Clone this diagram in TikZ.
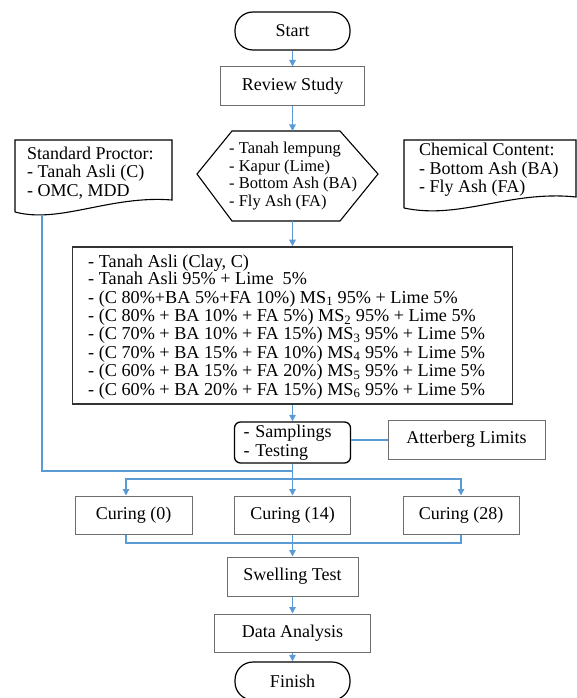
\documentclass[tikz,border=0pt]{standalone}
\usepackage{fontspec}
\setmainfont{Liberation Serif}
\usetikzlibrary{arrows.meta,calc}
\definecolor{flowblue}{RGB}{91,155,213}
\definecolor{boxgray}{RGB}{110,110,110}
\newcommand{\fsA}{\fontsize{18}{18.5}\selectfont}
\newcommand{\fsB}{\fontsize{16.5}{17.7}\selectfont}
\newcommand{\fsC}{\fontsize{18.2}{18.4}\selectfont}
\begin{document}
\begin{tikzpicture}[x=1pt,y=-1pt,
  plainbox/.style={draw=boxgray,line width=1pt,inner sep=0pt,font=\fsA,align=center},
  term/.style={draw=black,line width=1.2pt,rounded corners=18pt,inner sep=0pt,font=\fsA,minimum width=115pt,minimum height=38pt},
  txt/.style={inner sep=0pt,align=left,font=\fsA,anchor=west},
  shapeline/.style={draw=black,line width=1.1pt},
  flow/.style={draw=flowblue,line width=1.2pt},
  boldflow/.style={draw=flowblue,line width=2pt},
  arr/.style={flow,-{Triangle[length=6.5pt,width=6.5pt]}}]
\useasboundingbox (0,0) rectangle (577,698);

% terminals and boxes
\node[term] (start) at (292.5,31) {Start};
\node[plainbox,minimum width=144pt,minimum height=39pt] (review) at (292.5,86.5) {Review Study};

% hexagon
\coordinate (hextop) at (292.5,131);
\coordinate (hexbot) at (292.5,221);
\draw[shapeline] (232,131) -- (340,131) -- (378,174) -- (340,221) -- (232,221) -- (197,174) -- cycle;
\node[txt,font=\fsB] (hex) at (229,176) {- Tanah lempung\\- Kapur (Lime)\\- Bottom Ash (BA)\\- Fly Ash (FA)};

% standard proctor document
\draw[shapeline] (15,212) -- (15,140) -- (172,140) -- (172,200) .. controls (110,195) and (60,224) .. (15,212);
\node[txt] (sp) at (27,173) {Standard Proctor:\\- Tanah Asli (C)\\- OMC, MDD};
\coordinate (spb) at (42,215);

% chemical content document
\draw[shapeline] (404,208) -- (404,140) -- (576,140) -- (576,197) .. controls (510,190) and (460,220) .. (404,208);
\node[txt] (cc) at (419,170) {Chemical Content:\\- Bottom Ash (BA)\\- Fly Ash (FA)};

% mixtures box
\node[draw=black!80,line width=1.6pt,inner sep=0pt,minimum width=440pt,minimum height=157pt] (mix) at (292.5,325.5) {};
\node[txt,font=\fsC] (mixtext) at (88,327)
{- Tanah Asli (Clay, C)\\[-1.5pt]
- Tanah Asli 95\% + Lime\ \ 5\%\\
- (C 80\%+BA 5\%+FA 10\%) MS\textsubscript{1} 95\% + Lime 5\%\\
- (C 80\% + BA 10\% + FA 5\%) MS\textsubscript{2} 95\% + Lime 5\%\\
- (C 70\% + BA 10\% + FA 15\%) MS\textsubscript{3} 95\% + Lime 5\%\\
- (C 70\% + BA 15\% + FA 10\%) MS\textsubscript{4} 95\% + Lime 5\%\\
- (C 60\% + BA 15\% + FA 20\%) MS\textsubscript{5} 95\% + Lime 5\%\\
- (C 60\% + BA 20\% + FA 15\%) MS\textsubscript{6} 95\% + Lime 5\%};

% samplings and atterberg
\node[draw=black,line width=1.3pt,rounded corners=6pt,inner xsep=9pt,inner ysep=0pt,text width=98pt,minimum height=41pt,align=left,font=\fsA] (samp) at (292.5,442.5) {- Samplings\\- Testing};
\node[plainbox,minimum width=157pt,minimum height=39pt] (att) at (466.5,439.5) {Atterberg Limits};

% curing
\node[plainbox,minimum width=117pt,minimum height=38pt] (c0) at (133.5,515) {Curing (0)};
\node[plainbox,minimum width=116pt,minimum height=38pt] (c14) at (292.5,515) {Curing (14)};
\node[plainbox,minimum width=116pt,minimum height=38pt] (c28) at (461,515) {Curing (28)};

\node[plainbox,minimum width=131pt,minimum height=39pt] (swell) at (292.5,576.5) {Swelling Test};
\node[plainbox,minimum width=156pt,minimum height=38pt] (data) at (292.5,633) {Data Analysis};
\node[term] (finish) at (292.5,681) {Finish};

% connectors
\draw[arr] (start) -- (review);
\draw[arr] (review.south) -- (hextop);
\draw[arr] (hexbot) -- (mix.north);
\draw[arr] (mix.south) -- (samp.north);
\draw[boldflow] (att.west) -- (att.west -| samp.east);

\coordinate (jn) at (292.5,471);
\coordinate (br) at (292.5,479);
\draw[flow] (spb) |- (jn);
\draw[flow] (samp.south) -- (br);
\draw[arr] (br) -- (c14.north);
\draw[arr] (br) -| ([xshift=-7.5pt]c0.north);
\draw[arr] (br) -| (c28.north);

\coordinate (mg) at (292.5,543);
\draw[boldflow] ([xshift=-7.5pt]c0.south) |- (mg);
\draw[boldflow] (c28.south) |- (mg);
\draw[flow] (c14.south) -- (mg);
\draw[arr] (mg) -- (swell.north);
\draw[arr] (swell) -- (data);
\draw[arr] (data) -- (finish);
\end{tikzpicture}
\end{document}
